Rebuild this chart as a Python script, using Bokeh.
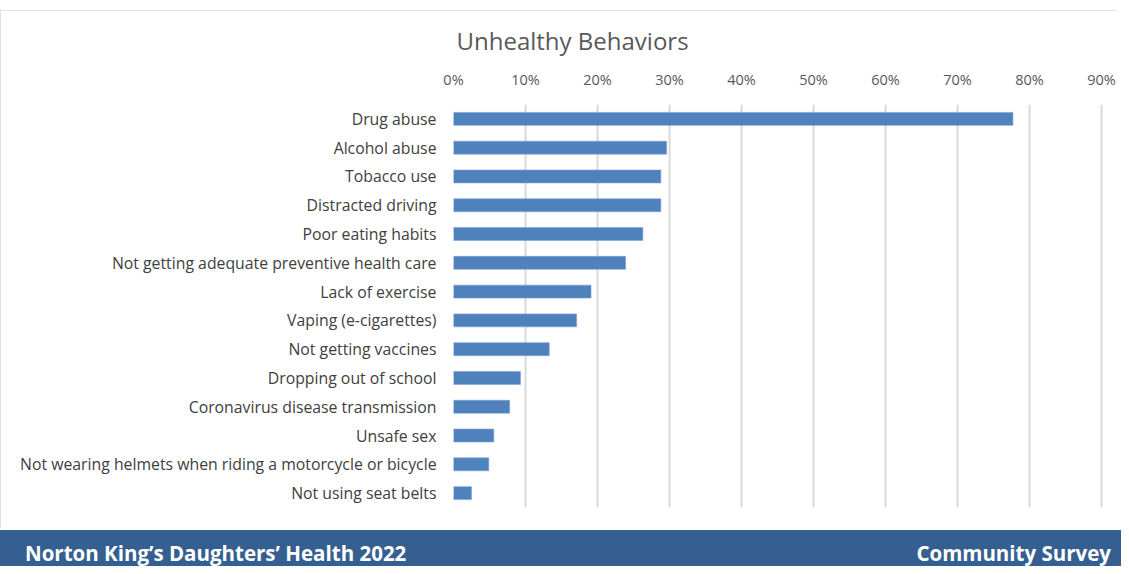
from bokeh.plotting import figure
from bokeh.models import FactorRange, Range1d, FixedTicker, NumeralTickFormatter, ColumnDataSource, Div, Spacer
from bokeh.layouts import column
from bokeh.embed import file_html
from bokeh.resources import INLINE

title_text = "Unhealthy Behaviors"
categories = [
    "Drug abuse",
    "Alcohol abuse",
    "Tobacco use",
    "Distracted driving",
    "Poor eating habits",
    "Not getting adequate preventive health care",
    "Lack of exercise",
    "Vaping (e-cigarettes)",
    "Not getting vaccines",
    "Dropping out of school",
    "Coronavirus disease transmission",
    "Unsafe sex",
    "Not wearing helmets when riding a motorcycle or bicycle",
    "Not using seat belts",
]
values = [0.777, 0.296, 0.288, 0.288, 0.263, 0.239, 0.191, 0.171, 0.133, 0.093, 0.078, 0.056, 0.049, 0.025]
x_ticks = [0.0, 0.1, 0.2, 0.3, 0.4, 0.5, 0.6, 0.7, 0.8, 0.9]
footer_left = "Norton King\u2019s Daughters\u2019 Health 2022"
footer_right = "Community Survey"

FONT = "Open Sans"
BLUE = "#4F81BD"
BANNER = "#365F91"
EDGE = "#d9d9d9"

src = ColumnDataSource(dict(cat=categories, val=values))

p = figure(
    width=1121, height=518,
    title=title_text,
    y_range=FactorRange(factors=list(reversed(categories)), range_padding=0),
    x_range=Range1d(0, 0.91944),
    x_axis_location="above",
    output_backend="svg", toolbar_location=None,
    min_border_left=453, min_border_right=6, min_border_top=94, min_border_bottom=21,
)
p.hbar(y="cat", right="val", left=0, height=0.45, source=src,
       fill_color=BLUE, line_color="#7ba3d6", line_width=0.6)

p.title.align = "left"
p.title.offset = 3
p.title.text_font = FONT
p.title.text_font_style = "normal"
p.title.text_font_size = "24px"
p.title.text_color = "#595959"
if "standoff" in p.title.properties():
    p.title.standoff = 20

p.xaxis.ticker = FixedTicker(ticks=x_ticks)
p.xaxis.formatter = NumeralTickFormatter(format="0%")
p.xaxis.axis_line_color = None
p.xaxis.major_tick_line_color = None
p.xaxis.minor_tick_line_color = None
p.xaxis.major_label_standoff = 10
p.xaxis.major_label_text_font = FONT
p.xaxis.major_label_text_font_size = "14.5px"
p.xaxis.major_label_text_color = "#595959"

p.yaxis.axis_line_color = None
p.yaxis.major_tick_line_color = None
p.yaxis.minor_tick_line_color = None
p.yaxis.major_label_standoff = 11
p.yaxis.major_label_text_font = FONT
p.yaxis.major_label_text_font_size = "15.8px"
p.yaxis.major_label_text_color = "#404040"

p.xgrid.grid_line_color = EDGE
p.xgrid.grid_line_width = 2
p.ygrid.grid_line_color = None
p.outline_line_color = None
p.styles = {"outline": f"2px solid {EDGE}", "outline-offset": "-2px",
            "clip-path": "inset(0px 5px 0px 0px)"}

footer_html = (
    '<div style="display:flex;justify-content:space-between;align-items:flex-start;'
    'width:1121px;height:36px;box-sizing:border-box;padding:12px 10px 0 25px;'
    "font-family:'Open Sans';font-weight:bold;font-size:20.5px;line-height:22px;color:white;\">"
    f"<span>{footer_left}</span><span>{footer_right}</span></div>"
)
footer = Div(text=footer_html, width=1121, height=36,
             styles={"background-color": BANNER, "overflow": "hidden", "margin": "0", "padding": "0"})

top_gap = Spacer(width=1121, height=10)
mid_gap = Spacer(width=1121, height=2)

layout = column(top_gap, p, mid_gap, footer, spacing=0)
open("out.html", "w").write(file_html(layout, INLINE))
